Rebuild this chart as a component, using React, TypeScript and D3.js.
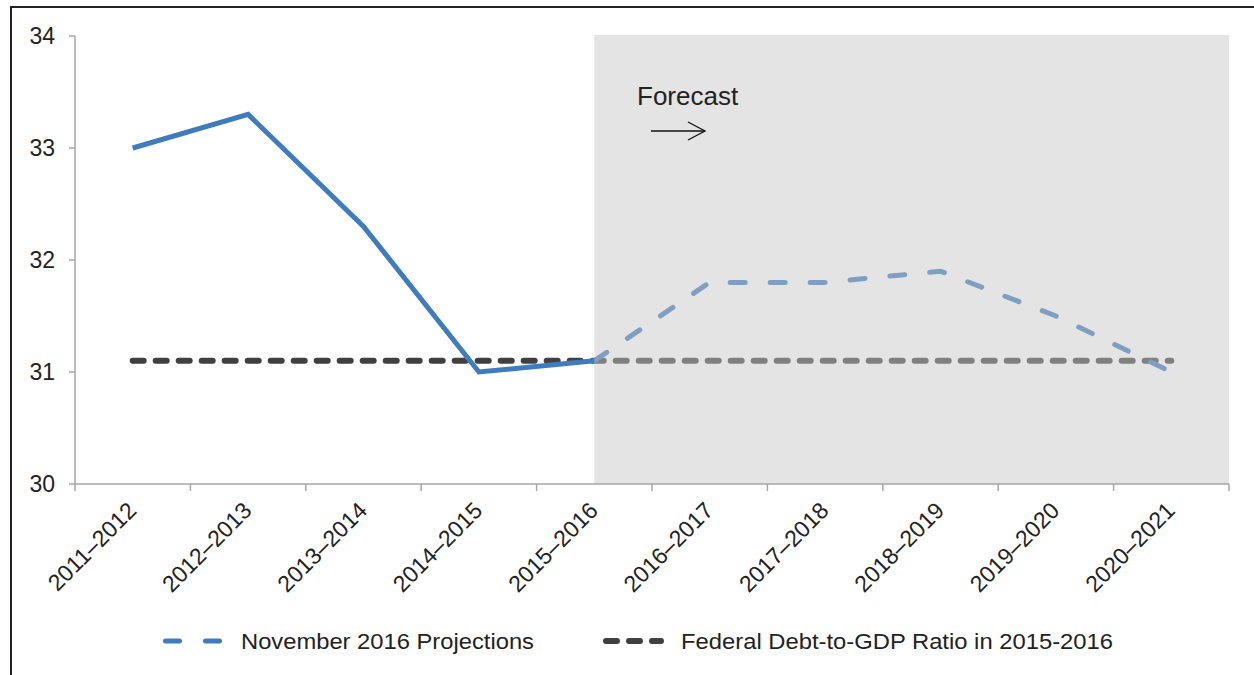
import React from "react";
import * as d3 from "d3";

const categories = ["2011–2012","2012–2013","2013–2014","2014–2015","2015–2016","2016–2017","2017–2018","2018–2019","2019–2020","2020–2021"];
const projections = [33.0, 33.3, 32.3, 31.0, 31.1, 31.8, 31.8, 31.9, 31.5, 31.0];
const debtRatio2015 = [31.1, 31.1, 31.1, 31.1, 31.1, 31.1, 31.1, 31.1, 31.1, 31.1];
const yTicks = [30, 31, 32, 33, 34];
const forecastStartIndex = 4;
const seriesNames = ["November 2016 Projections", "Federal Debt-to-GDP Ratio in 2015-2016"];

const W = 1254, H = 675;
const FONT = "Liberation Sans, Arial, sans-serif";
const BLUE = "#3f7cbf";
const DARK = "#404040";

export default function App() {
  const x = d3.scaleBand<string>().domain(categories).range([75, 1229]).padding(0);
  const cx = (i: number) => (x(categories[i]) as number) + x.bandwidth() / 2;
  const y = d3.scaleLinear().domain([30, 34]).range([484, 36]);

  const line = d3.line<number>().x((_, i) => cx(i)).y((d) => y(d));
  const solidPts = projections.slice(0, forecastStartIndex + 1);
  const dashPath = d3.line<[number, number]>().x((d) => cx(d[0])).y((d) => y(d[1]))(
    projections.map((v, i) => [i, v] as [number, number]).slice(forecastStartIndex)
  );

  const shadeX0 = cx(forecastStartIndex);
  const shadeX1 = 1229;

  return (
    <svg width={W} height={H} style={{ position: "absolute", left: 0, top: 0 }} fontFamily={FONT}>
      <rect x={0} y={0} width={W} height={H} fill="#fff" />
      <rect x={11} y={7} width={1300} height={720} fill="none" stroke="#222" strokeWidth={2} />

      {/* reference line */}
      <path d={line(debtRatio2015) || ""} fill="none" stroke={DARK} strokeWidth={6} strokeDasharray="11 12" strokeLinecap="round" />
      {/* projections solid */}
      <path d={line(solidPts) || ""} fill="none" stroke={BLUE} strokeWidth={5} strokeLinejoin="miter" />
      {/* projections dashed */}
      <path d={dashPath || ""} fill="none" stroke={BLUE} strokeWidth={5} strokeDasharray="15 25" strokeLinecap="round" />

      {/* forecast shading */}
      <rect x={shadeX0} y={y(34) - 1} width={shadeX1 - shadeX0} height={y(30) - y(34) + 1} fill="#c6c6c6" opacity={0.48} />

      <text x={637} y={105} fontSize={26} fill="#222">Forecast</text>
      <g stroke="#111" strokeWidth={1.3} fill="none">
        <line x1={651} y1={131} x2={705} y2={131} />
        <polyline points="688,122 705,131 688,140" />
      </g>

      {/* y axis */}
      <line x1={75} y1={y(34)} x2={75} y2={y(30)} stroke="#a6a6a6" strokeWidth={1.5} />
      {yTicks.map((t) => (
        <g key={t}>
          <line x1={69} x2={75} y1={y(t)} y2={y(t)} stroke="#a6a6a6" strokeWidth={1.5} />
          <text x={55} y={y(t)} dy="0.36em" textAnchor="end" fontSize={23} fill="#222">{t}</text>
        </g>
      ))}

      {/* x axis */}
      <line x1={75} y1={y(30)} x2={1229} y2={y(30)} stroke="#a6a6a6" strokeWidth={1.5} />
      {categories.map((c, i) => (
        <line key={"t" + c} x1={x(c) as number} x2={x(c) as number} y1={y(30)} y2={y(30) + 7} stroke="#a6a6a6" strokeWidth={1.5} />
      ))}
      <line x1={1229} x2={1229} y1={y(30)} y2={y(30) + 7} stroke="#a6a6a6" strokeWidth={1.5} />
      {categories.map((c, i) => (
        <text key={c} transform={`translate(${cx(i) + 5},${512}) rotate(-45)`} textAnchor="end" fontSize={23} fill="#222">{c}</text>
      ))}

      {/* legend */}
      <line x1={165.5} x2={224} y1={641} y2={641} stroke={BLUE} strokeWidth={5} strokeDasharray="14 26" strokeLinecap="round" />
      <text x={241} y={649} fontSize={22} fill="#222" textLength={293} lengthAdjust="spacingAndGlyphs">{seriesNames[0]}</text>
      <line x1={606} x2={661} y1={641} y2={641} stroke={DARK} strokeWidth={6} strokeDasharray="11 12" strokeLinecap="round" />
      <text x={681} y={649} fontSize={22} fill="#222" textLength={432} lengthAdjust="spacingAndGlyphs">{seriesNames[1]}</text>
    </svg>
  );
}
